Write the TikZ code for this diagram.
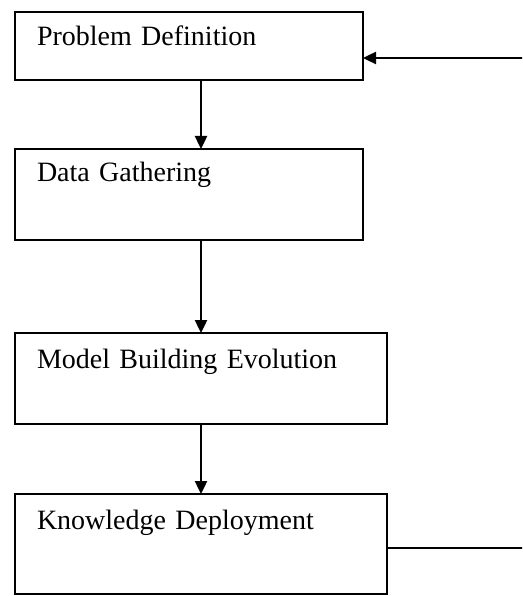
\documentclass[tikz,border=0pt]{standalone}
\usepackage{fontspec}
\setmainfont{Liberation Serif}
\usetikzlibrary{arrows.meta}

\tikzset{
	stage/.style={draw, line width=1.7pt, anchor=north west, align=left, outer sep=0pt,
		inner xsep=22pt, inner ysep=0pt, font=\fontsize{28}{32}\selectfont},
	flow/.style={line width=2.4pt, -{Triangle[length=13pt,width=12pt]}}
}

\begin{document}
\begin{tikzpicture}[x=1pt,y=1pt,yscale=-1,xscale=1]
	\useasboundingbox (0,0) rectangle (522,596);
	\clip (0,0) rectangle (522,596);
	\node (prob) [stage, text width=304pt, text height=34pt, text depth=34pt] at (15,12) {Problem Definition};
	\node (gather) [stage, text width=304pt, text height=33pt, text depth=58pt] at (15,149) {Data Gathering};
	\node (model) [stage, text width=328pt, text height=35pt, text depth=56pt] at (15,333) {Model Building Evolution};
	\node (deploy) [stage, text width=328pt, text height=35pt, text depth=65pt] at (15,494) {Knowledge Deployment};
	\coordinate (loop) at (540,0);
	\draw [flow] ([xshift=12pt]prob.south) -- ([xshift=12pt]gather.north);
	\draw [flow] ([xshift=12pt]gather.south) -- (model.north);
	\draw [flow] (model.south) -- (deploy.north);
	\draw [flow] ([yshift=4pt]deploy.east) -- ([yshift=4pt]deploy.east -| loop) |- ([yshift=12pt]prob.east);
\end{tikzpicture}
\end{document}
